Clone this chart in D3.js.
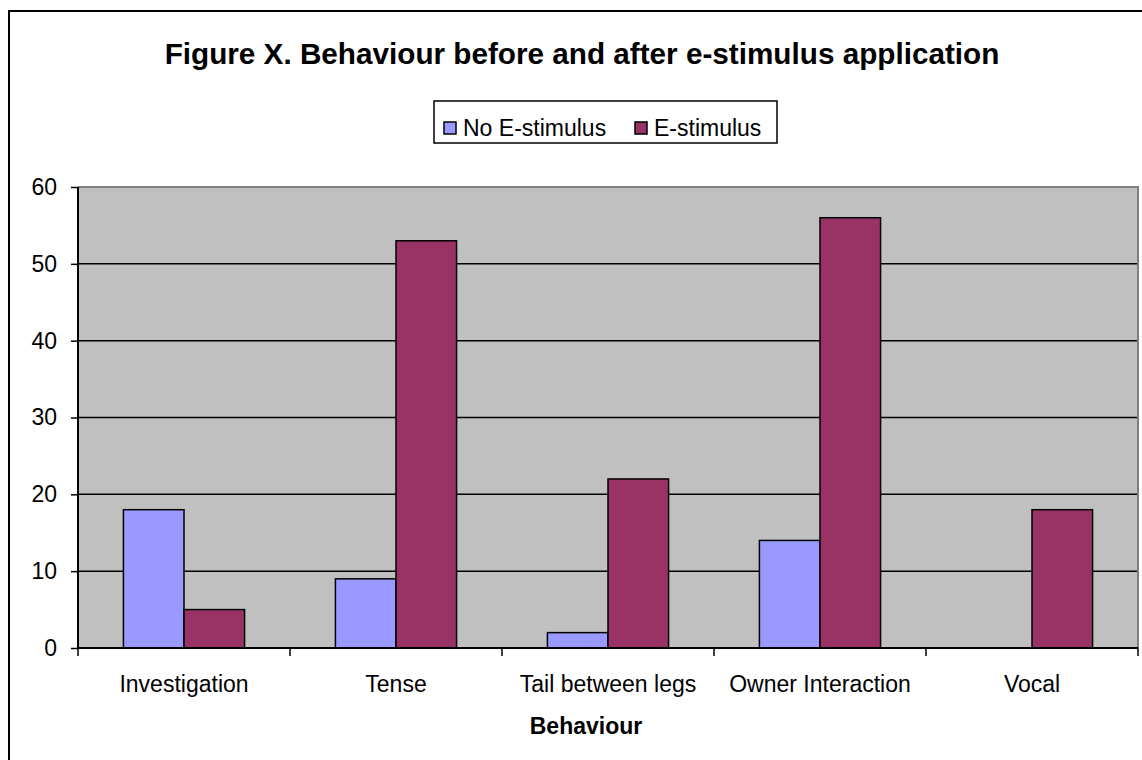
<!DOCTYPE html>
<html>
<head>
<meta charset="utf-8">
<script src="https://cdn.jsdelivr.net/npm/d3@7"></script>
<style>
  html, body { margin: 0; padding: 0; background: #fff; }
  svg { display: block; font-family: "Liberation Sans", Arial, sans-serif; }
</style>
</head>
<body>
<svg id="chart" width="1142" height="760"></svg>
<script>
const categories = ["Investigation", "Tense", "Tail between legs", "Owner Interaction", "Vocal"];
const seriesNames = ["No E-stimulus", "E-stimulus"];
const noStimulus = [18, 9, 2, 14, 0];
const eStimulus = [5, 53, 22, 56, 18];
const yTicks = [0, 10, 20, 30, 40, 50, 60];
const seriesColors = ["#9999FF", "#993366"];
const titleText = "Figure X. Behaviour before and after e-stimulus application";
const xTitle = "Behaviour";

const svg = d3.select("#chart");
const W = 1142, H = 760;
const plot = { left: 78, right: 1138, top: 187, bottom: 648 };

// outer chart border (extends beyond the right/bottom edge like the reference)
svg.append("rect")
  .attr("x", 9).attr("y", 11).attr("width", W + 20).attr("height", H + 20)
  .attr("fill", "#fff").attr("stroke", "#000").attr("stroke-width", 2);

// title
svg.append("text")
  .attr("x", 582).attr("y", 64)
  .attr("text-anchor", "middle")
  .attr("font-size", 29.7).attr("font-weight", "bold")
  .text(titleText);

const x = d3.scaleBand().domain(categories).range([plot.left, plot.right]).padding(0);
const xs = d3.scaleBand().domain(seriesNames).range([0, x.bandwidth()])
  .paddingInner(0).paddingOuter(0.75);
const y = d3.scaleLinear().domain([0, 60]).range([plot.bottom, plot.top]);

// plot background
svg.append("rect")
  .attr("x", plot.left).attr("y", plot.top)
  .attr("width", plot.right - plot.left).attr("height", plot.bottom - plot.top)
  .attr("fill", "#C0C0C0");

// gridlines
svg.append("g").selectAll("line")
  .data(yTicks.filter(t => t > 0 && t < 60))
  .join("line")
  .attr("x1", plot.left).attr("x2", plot.right)
  .attr("y1", d => y(d)).attr("y2", d => y(d))
  .attr("stroke", "#000").attr("stroke-width", 1.5);

// gray top and right plot border
svg.append("path")
  .attr("d", `M${plot.left},${y(60)}H${plot.right}V${plot.bottom}`)
  .attr("fill", "none").attr("stroke", "#808080").attr("stroke-width", 2);

// bars
const rows = categories.map((c, i) => ({ cat: c, vals: [noStimulus[i], eStimulus[i]] }));
const groups = svg.append("g").selectAll("g")
  .data(rows).join("g")
  .attr("transform", d => `translate(${x(d.cat)},0)`);
groups.selectAll("rect")
  .data(d => d.vals.map((v, j) => ({ s: seriesNames[j], v, j })).filter(e => e.v > 0))
  .join("rect")
  .attr("x", d => xs(d.s))
  .attr("width", xs.bandwidth())
  .attr("y", d => y(d.v))
  .attr("height", d => y(0) - y(d.v))
  .attr("fill", d => seriesColors[d.j])
  .attr("stroke", "#000").attr("stroke-width", 1.5);

// y axis
const yAxis = d3.axisLeft(y).tickValues(yTicks).tickSize(7).tickPadding(14);
const gy = svg.append("g").attr("transform", `translate(${plot.left},0)`).call(yAxis);
gy.select(".domain").attr("stroke", "#000").attr("stroke-width", 2).attr("d", `M0,${plot.top}V${plot.bottom}`);
gy.selectAll(".tick line").attr("stroke", "#000").attr("stroke-width", 1.5);
gy.selectAll(".tick text").attr("font-size", 23).attr("fill", "#000")
  .attr("font-family", "'Liberation Sans', Arial, sans-serif");

// x axis
const xAxis = d3.axisBottom(x).tickSize(0).tickPadding(28);
const gx = svg.append("g").attr("transform", `translate(0,${plot.bottom})`).call(xAxis);
gx.select(".domain").attr("stroke", "#000").attr("stroke-width", 2).attr("d", `M${plot.left},0H${plot.right}`);
gx.selectAll(".tick text").attr("font-size", 23).attr("fill", "#000")
  .attr("font-family", "'Liberation Sans', Arial, sans-serif");
// boundary ticks between categories
const bounds = categories.map(c => x(c)).concat([plot.right]);
gx.append("g").selectAll("line").data(bounds).join("line")
  .attr("x1", d => d).attr("x2", d => d)
  .attr("y1", 0).attr("y2", 8)
  .attr("stroke", "#000").attr("stroke-width", 1.5);

// x axis title
svg.append("text")
  .attr("x", (plot.left + plot.right) / 2 - 22).attr("y", 734)
  .attr("text-anchor", "middle")
  .attr("font-size", 23).attr("font-weight", "bold")
  .text(xTitle);

// legend
const legend = svg.append("g");
legend.append("rect")
  .attr("x", 434).attr("y", 101).attr("width", 343).attr("height", 42)
  .attr("fill", "#fff").attr("stroke", "#000").attr("stroke-width", 1.5);
const legendX = [444, 635];
const items = legend.selectAll("g.item").data(seriesNames).join("g").attr("class", "item")
  .attr("transform", (d, i) => `translate(${legendX[i]},122)`);
items.append("rect")
  .attr("x", 0).attr("y", 0).attr("width", 12).attr("height", 12)
  .attr("fill", (d, i) => seriesColors[i]).attr("stroke", "#000").attr("stroke-width", 1.5);
items.append("text")
  .attr("x", 19).attr("y", 14)
  .attr("font-size", 23)
  .text(d => d);
</script>
</body>
</html>
